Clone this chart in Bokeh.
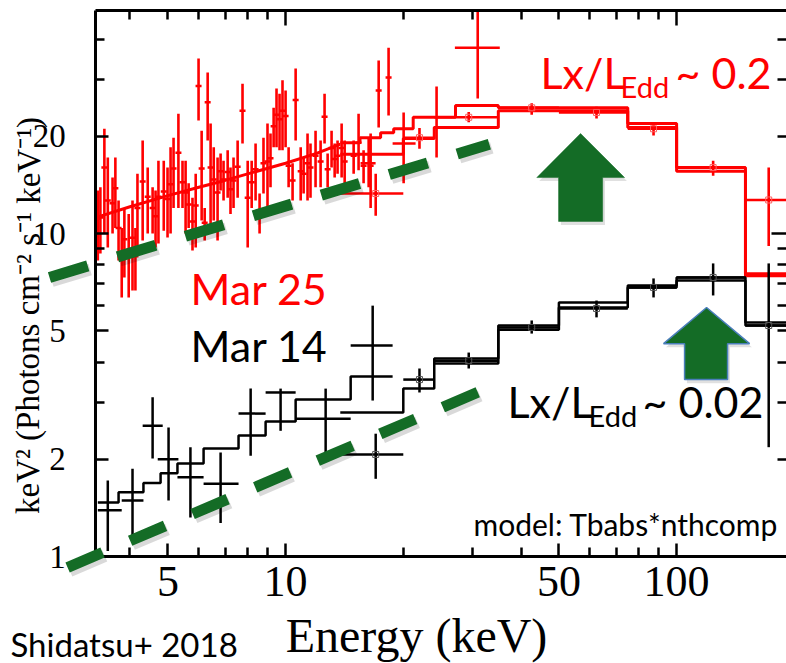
from bokeh.plotting import figure
from bokeh.models import (LogAxis, FixedTicker, Label, Arrow, Range1d,
                          PrintfTickFormatter)
from bokeh.embed import file_html
from bokeh.resources import INLINE

RED = "#ff0000"
BLACK = "#000000"
GREEN = "#146c26"
SERIF = "Liberation Serif"
SANS = "Lato"

# ---------------- axes / ticks ----------------
view_x = (1.866, 191.0)      # whole canvas
view_y = (0.4664, 52.65)
box_x = (3.27, 191.0)        # the framed plot box
box_y = (1.0, 49.0)
x_major = [5, 10, 50, 100]
x_minor = [4, 6, 7, 8, 9, 20, 30, 40, 60, 70, 80, 90]
x_top_major = [10, 100]
x_top_minor = [4, 5, 6, 7, 8, 9, 20, 30, 40, 50, 60, 70, 80, 90]
y_major = [1, 2, 5, 10, 20]
y_minor = [3, 4, 6, 7, 8, 9, 30, 40]
y_right_major = [10]
y_right_minor = [2, 3, 4, 5, 6, 7, 8, 9, 20, 30, 40]

# ---------------- Mar 25 (red) fine-binned data ----------------
red_e = [3.31, 3.36, 3.44, 3.51, 3.61, 3.67, 3.74, 3.81, 3.87, 3.97,
         4.06, 4.13, 4.18, 4.31, 4.44, 4.57, 4.65, 4.73, 4.88, 4.99,
         5.08, 5.17, 5.32, 5.45, 5.55, 5.65, 5.78, 5.89, 5.99, 6.10,
         6.21, 6.32, 6.43, 6.55, 6.70, 6.82, 6.94, 7.11, 7.23, 7.36,
         7.54, 7.76, 8.00, 8.19, 8.38, 8.58, 8.78, 8.99, 9.15, 9.32,
         9.48, 9.65, 9.82, 10.0, 10.18, 10.42, 10.61, 10.93, 11.12, 11.38,
         11.58, 11.93, 12.29, 12.58, 12.81, 13.11, 13.35, 13.58, 13.91, 14.16,
         14.93, 15.37, 15.83, 16.50, 17.30, 18.34, 24.33]
red_y = [11.1, 11.2, 16.0, 12.65, 12.4, 13.8, 10.4, 8.4, 9.6, 8.9,
         9.7, 8.5, 12.0, 14.5, 13.0, 12.0, 11.3, 13.0, 13.5, 12.8,
         14.2, 15.9, 17.8, 14.4, 13.4, 12.3, 10.9, 12.2, 28.6, 15.9,
         10.8, 25.5, 16.0, 14.7, 13.4, 15.6, 14.7, 15.5, 13.7, 14.6,
         16.1, 24.0, 12.9, 14.4, 15.8, 11.6, 16.5, 16.7, 17.1, 21.5,
         23.3, 22.6, 24.0, 23.1, 16.2, 14.6, 25.9, 15.6, 15.3, 16.5,
         16.0, 17.4, 16.7, 23.0, 15.8, 18.4, 17.0, 17.4, 18.4, 16.7,
         17.4, 19.1, 16.2, 16.2, 27.7, 30.4, 21.3]
red_lo = [8.25, 8.67, 10.0, 9.05, 10.0, 10.4, 8.25, 6.34, 7.31, 6.34,
          6.66, 6.66, 8.67, 9.51, 10.0, 10.0, 9.05, 9.31, 10.2, 9.72,
          10.0, 12.0, 12.0, 12.0, 10.0, 10.4, 8.86, 9.05, 22.4, 10.97,
          9.51, 19.4, 10.0, 10.97, 9.51, 13.6, 12.65, 12.9, 11.5, 12.0,
          12.9, 19.0, 9.05, 12.0, 12.65, 10.0, 13.3, 11.5, 13.9, 18.5,
          18.5, 18.1, 18.1, 18.5, 13.9, 12.65, 19.4, 12.65, 13.3, 12.65,
          12.9, 13.9, 13.9, 19.0, 13.9, 16.0, 14.9, 15.3, 14.9, 13.9,
          15.3, 15.7, 14.3, 12.0, 21.3, 23.2, 17.2]
red_hi = [13.6, 13.9, 21.1, 17.2, 14.9, 17.2, 12.65, 10.4, 11.95, 11.5,
          12.65, 10.4, 15.3, 19.4, 16.0, 13.9, 13.6, 16.8, 16.8, 16.0,
          18.5, 19.8, 23.5, 16.8, 16.8, 14.3, 12.9, 15.3, 34.8, 20.8,
          12.0, 31.5, 21.9, 18.5, 17.2, 17.7, 16.8, 18.1, 16.0, 17.2,
          19.4, 29.1, 16.8, 16.8, 19.0, 13.3, 19.8, 21.9, 20.4, 24.5,
          28.1, 27.1, 29.8, 27.7, 18.5, 16.5, 32.4, 18.5, 17.2, 20.4,
          19.0, 20.8, 19.4, 27.1, 17.7, 20.8, 19.0, 19.4, 21.9, 19.4,
          19.4, 23.5, 18.1, 20.4, 34.3, 37.6, 28.5]

# red points with visible energy bars
red_x_e = [16.31, 20.04, 31.0]
red_x_elo = [15.55, 18.78, 27.1]
red_x_ehi = [16.99, 21.5, 35.3]
red_x_y = [16.5, 19.0, 37.6]
red_x_lo = [13.9, 14.3, 26.2]
red_x_hi = [19.8, 23.7, 49.0]

# red wide-binned data (squares)
red_w_e = [17.0, 22.0, 29.4, 42.6, 62.4, 87.3, 124.0, 172.0]
red_w_elo = [13.8, 20.0, 24.0, 35.0, 50.0, 75.0, 100.0, 150.0]
red_w_ehi = [20.0, 24.0, 35.0, 50.0, 75.0, 100.0, 150.0, 191.0]
red_w_y = [13.3, 19.8, 22.9, 24.5, 23.7, 21.1, 16.0, 12.7]
red_w_lo = [11.35, 18.3, 22.1, 23.3, 22.7, 20.1, 15.1, 9.15]
red_w_hi = [15.3, 21.2, 23.8, 25.3, 24.7, 21.9, 16.8, 16.0]

# red models
red_mod_line_e = [3.27, 4.0, 5.0, 6.0, 7.0, 8.0, 10.0, 12.0, 13.8]
red_mod_line_y = [11.2, 12.1, 13.1, 13.9, 14.6, 15.3, 16.5, 17.7, 18.9]
red_modA_edges = [13.8, 15.5, 17.5, 18.9, 21.2, 27.2, 35.0, 50.0, 75.0, 100.0, 150.0, 191.0]
red_modA_vals = [19.1, 19.8, 20.5, 21.1, 22.9, 24.9, 24.5, 24.5, 21.9, 16.0, 7.5]
red_modB_edges = [13.8, 20.0, 24.0, 35.0, 50.0, 75.0, 100.0, 150.0, 191.0]
red_modB_vals = [17.6, 19.7, 21.3, 24.0, 24.0, 21.3, 15.6, 7.4]

# ---------------- Mar 14 (black) ----------------
blk_e = [3.51, 4.06, 4.57, 5.02, 5.71, 6.82, 8.14, 9.71, 12.66, 16.7]
blk_elo = [3.31, 3.81, 4.31, 4.71, 5.29, 6.17, 7.58, 8.89, 10.61, 14.67]
blk_ehi = [3.81, 4.33, 4.85, 5.32, 6.17, 7.58, 8.89, 10.61, 14.67, 18.78]
blk_y = [1.39, 1.49, 2.54, 2.00, 1.76, 1.68, 2.77, 3.22, 2.67, 4.50]
blk_lo = [1.04, 1.12, 2.01, 1.49, 1.32, 1.27, 2.05, 2.45, 2.08, 3.04]
blk_hi = [1.72, 1.87, 3.11, 2.51, 2.18, 2.10, 3.31, 3.31, 3.31, 5.98]

blk_w_e = [17.0, 22.0, 29.4, 42.6, 62.4, 87.3, 124.0, 172.0]
blk_w_elo = [13.8, 20.0, 24.0, 35.0, 50.0, 75.0, 100.0, 150.0]
blk_w_ehi = [20.0, 24.0, 35.0, 50.0, 75.0, 100.0, 150.0, 191.0]
blk_w_y = [2.07, 3.53, 4.04, 5.12, 5.86, 6.81, 7.31, 5.19]
blk_w_lo = [1.74, 3.22, 3.82, 4.90, 5.50, 6.34, 6.43, 2.18]
blk_w_hi = [2.40, 3.82, 4.28, 5.38, 6.20, 7.26, 8.08, 8.08]

blk_modA_edges = [3.31, 3.74, 4.33, 4.79, 5.29, 6.17, 7.58, 8.89, 10.61, 14.67, 18.78]
blk_modA_vals = [1.47, 1.58, 1.69, 1.81, 1.94, 2.16, 2.37, 2.62, 3.06, 3.61]
blk_modB_edges = [13.8, 20.0, 24.0, 35.0, 50.0, 75.0, 100.0, 150.0, 191.0]
blk_modB_vals = [2.79, 3.31, 4.10, 5.19, 6.12, 6.90, 7.31, 5.30]
blk_modC_edges = [24.0, 35.0, 50.0, 75.0, 100.0, 150.0, 191.0]
blk_modC_vals = [3.96, 5.04, 5.90, 6.81, 7.15, 5.19]

# ---------------- annotations (data units) ----------------
guide_hi = dict(x0=2.49, y0=7.31, x1=33.2, y1=18.9)
guide_lo = dict(x0=2.77, y0=0.925, x1=33.2, y1=3.34)
arrow_big = dict(tip=(56.8, 20.4), base=14.9, head=(43.9, 73.6), shaft=(49.9, 64.7), bottom=10.9)
arrow_small = dict(tip=(119.3, 5.90), base=4.56, head=(92.6, 153.7), shaft=(104.8, 135.0), bottom=3.53)
SHADOW_DX, SHADOW_DY = 1.014, 0.975   # small drop-shadow offset (multiplicative, log axes)

# ---------------- figure ----------------
p = figure(width=786, height=663, x_axis_type="log", y_axis_type="log",
           x_range=Range1d(*view_x), y_range=Range1d(*view_y),
           output_backend="svg", toolbar_location=None, min_border=0)
p.xgrid.visible = False
p.ygrid.visible = False
p.outline_line_color = None
p.background_fill_color = "white"
p.border_fill_color = "white"


def style_axis(ax, major, minor, major_len, loc, bounds, font_size=None, standoff=0):
    ax.ticker = FixedTicker(ticks=major, minor_ticks=minor)
    ax.fixed_location = loc
    ax.bounds = bounds
    ax.axis_line_width = 3
    ax.axis_line_color = "black"
    ax.major_tick_line_width = 2.5
    ax.minor_tick_line_width = 2.5
    ax.major_tick_line_color = "black"
    ax.minor_tick_line_color = "black"
    ax.major_tick_in = major_len
    ax.major_tick_out = 0
    ax.minor_tick_in = 9
    ax.minor_tick_out = 0
    ax.formatter = PrintfTickFormatter(format="%d")
    if font_size:
        ax.major_label_text_font = SERIF
        ax.major_label_text_font_size = font_size
        ax.major_label_text_color = "black"
        ax.major_label_standoff = standoff
    else:
        ax.major_label_text_font_size = "1px"
        ax.major_label_text_alpha = 0
        ax.major_label_standoff = 0


style_axis(p.xaxis[0], x_major, x_minor, 13, box_y[0], box_x, "44px", 10)
style_axis(p.yaxis[0], y_major, y_minor, 13, box_x[0], box_y, "33px", 30)
top_ax = LogAxis()
right_ax = LogAxis()
p.add_layout(top_ax, "above")
p.add_layout(right_ax, "right")
style_axis(top_ax, x_top_major, x_top_minor, 15, box_y[1], box_x)
style_axis(right_ax, y_right_major, y_right_minor, 15, box_x[1], box_y)
right_ax.axis_line_color = None


def step_line(edges, vals, color, width):
    p.step(x=list(edges), y=list(vals) + [vals[-1]], mode="after",
           line_color=color, line_width=width)


# models
p.line(red_mod_line_e, red_mod_line_y, line_color=RED, line_width=3)
step_line(red_modA_edges, red_modA_vals, RED, 3)
step_line(red_modB_edges, red_modB_vals, RED, 3)
step_line(blk_modA_edges, blk_modA_vals, BLACK, 2.5)
step_line(blk_modB_edges, blk_modB_vals, BLACK, 2.5)
step_line(blk_modC_edges, blk_modC_vals, BLACK, 2.5)

# red fine data
p.segment(x0=red_e, y0=red_lo, x1=red_e, y1=red_hi, line_color=RED, line_width=2.6)
p.scatter(red_e, red_y, marker="dash", size=6, line_color=RED, line_width=2.5)

# red data with energy bars
p.segment(x0=red_x_e, y0=red_x_lo, x1=red_x_e, y1=red_x_hi, line_color=RED, line_width=2.6)
p.segment(x0=red_x_elo, y0=red_x_y, x1=red_x_ehi, y1=red_x_y, line_color=RED, line_width=2.6)

# red wide bins
p.segment(x0=red_w_e, y0=red_w_lo, x1=red_w_e, y1=red_w_hi, line_color=RED, line_width=2.6)
p.segment(x0=red_w_elo, y0=red_w_y, x1=red_w_ehi, y1=red_w_y, line_color=RED, line_width=2.6)
p.scatter(red_w_e, red_w_y, marker="square", size=6, fill_color=None,
          line_color="#ff6060", line_width=1)

# black data
p.segment(x0=blk_e, y0=blk_lo, x1=blk_e, y1=blk_hi, line_color=BLACK, line_width=2.5)
p.segment(x0=blk_elo, y0=blk_y, x1=blk_ehi, y1=blk_y, line_color=BLACK, line_width=2.5)
p.segment(x0=blk_w_e, y0=blk_w_lo, x1=blk_w_e, y1=blk_w_hi, line_color=BLACK, line_width=2.5)
p.segment(x0=blk_w_elo, y0=blk_w_y, x1=blk_w_ehi, y1=blk_w_y, line_color=BLACK, line_width=2.5)
p.scatter(blk_w_e, blk_w_y, marker="square", size=6, fill_color=None,
          line_color="#555555", line_width=1)

# green dashed guides (with a faint drop shadow)
for g, dash in ((guide_hi, "40 31"), (guide_lo, "38 30")):
    p.add_layout(Arrow(end=None, start=None,
                       x_start=g["x0"] * SHADOW_DX, y_start=g["y0"] * SHADOW_DY,
                       x_end=g["x1"] * SHADOW_DX, y_end=g["y1"] * SHADOW_DY,
                       line_color="black", line_alpha=0.15,
                       line_width=12, line_dash=dash))
    p.add_layout(Arrow(end=None, start=None, x_start=g["x0"], y_start=g["y0"],
                       x_end=g["x1"], y_end=g["y1"], line_color=GREEN,
                       line_width=11, line_dash=dash))


def block_arrow(a, outline):
    (tx, ty) = a["tip"]
    hl, hr = a["head"]
    sl, sr = a["shaft"]
    xs = [sl, sl, hl, tx, hr, sr, sr]
    ys = [a["bottom"], a["base"], a["base"], ty, a["base"], a["base"], a["bottom"]]
    p.patch([v * SHADOW_DX for v in xs], [v * SHADOW_DY for v in ys],
            fill_color="black", fill_alpha=0.12, line_color=None)
    p.patch(xs, ys, fill_color=GREEN, line_color=outline if outline else GREEN,
            line_width=1.5 if outline else 0.5)


block_arrow(arrow_big, None)
block_arrow(arrow_small, "#4a7ebb")

# ---------------- texts (screen px from canvas bottom-left) ----------------
def lab(x, y, text, size, color="black", font=SANS, **kw):
    p.add_layout(Label(x=x, y=y, x_units="screen", y_units="screen", text=text,
                       text_font=font, text_font_size=size, text_color=color, **kw))


lab(190, 350, "Mar 25", "43px", RED)
lab(190, 293, "Mar 14", "43px", BLACK)
lab(540, 566, "Lx/L", "43px", RED)
lab(620, 560, "Edd", "29px", RED)
lab(675, 566, "~ 0.2", "43px", RED)
lab(507, 237, "Lx/L", "43px", BLACK)
lab(588, 231, "Edd", "29px", BLACK)
lab(642, 237, "~ 0.02", "43px", BLACK)
lab(473, 122, "model: Tbabs*nthcomp", "30px", BLACK)
lab(416, 2, "Energy (keV)", "48px", BLACK, SERIF, text_align="center")
lab(10, 0, "Shidatsu+ 2018", "33px", BLACK)
lab(28, 348, "keV\u00b2 (Photons cm\u207b\u00b2 s\u207b\u00b9 keV\u207b\u00b9)", "33px",
    BLACK, SERIF, angle=1.5707963, text_align="center", text_baseline="middle")

open("out.html", "w").write(file_html(p, INLINE))
